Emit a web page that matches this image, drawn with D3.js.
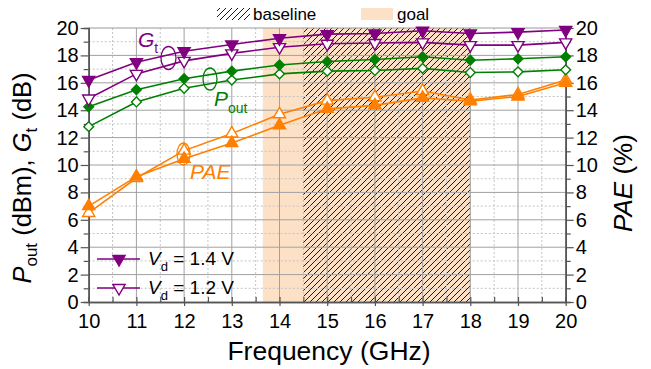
<!DOCTYPE html>
<html>
<head>
<meta charset="utf-8">
<script src="https://cdn.jsdelivr.net/npm/d3@7"></script>
<style>
  html, body { margin: 0; padding: 0; background: #fff; }
  svg { display: block; font-family: "Liberation Sans", Arial, sans-serif; }
</style>
</head>
<body>
<svg id="chart" width="651" height="369"></svg>
<script>
// Frequency sweep (GHz)
const freq = [10, 11, 12, 13, 14, 15, 16, 17, 18, 19, 20];

// Transducer gain Gt (dB)
const gt14 = [16.2, 17.5, 18.3, 18.8, 19.25, 19.55, 19.6, 19.8, 19.6, 19.7, 19.85];
const gt12 = [14.85, 16.65, 17.6, 18.15, 18.6, 18.85, 18.9, 18.95, 18.75, 18.75, 18.95];

// Output power Pout (dBm)
const pout14 = [14.25, 15.5, 16.3, 16.85, 17.3, 17.55, 17.7, 17.9, 17.65, 17.75, 17.9];
const pout12 = [12.8, 14.6, 15.6, 16.2, 16.65, 16.85, 16.9, 17.05, 16.75, 16.8, 16.95];

// Power-added efficiency PAE (%)
const pae14 = [7.0, 9.15, 10.45, 11.6, 12.9, 14.1, 14.35, 14.9, 14.65, 15.0, 16.0];
const pae12 = [6.5, 9.05, 11.05, 12.3, 13.7, 14.7, 14.95, 15.4, 14.75, 15.15, 16.2];

// Shaded bands (GHz)
const goalBand = [13.65, 18];
const baselineBand = [14.5, 18];

// Axis ticks
const xTicks = [10, 11, 12, 13, 14, 15, 16, 17, 18, 19, 20];
const yTicks = [0, 2, 4, 6, 8, 10, 12, 14, 16, 18, 20];

const PURPLE = "#800080", GREEN = "#008000", ORANGE = "#ff8000";
const PEACH = "#fde1c7";

const svg = d3.select("#chart");
const L = 88.7, R = 565.7, T = 28, B = 302;

const x = d3.scaleLinear().domain([10, 20]).range([L, R]);
const yL = d3.scaleLinear().domain([0, 20]).range([B, T]);
const yR = d3.scaleLinear().domain([0, 20]).range([B, T]);

// hatch pattern
const defs = svg.append("defs");
const pat = defs.append("pattern")
  .attr("id", "hatch").attr("patternUnits", "userSpaceOnUse")
  .attr("width", 6).attr("height", 6);
pat.append("path")
  .attr("d", "M0,6 L6,0 M-1.5,1.5 L1.5,-1.5 M4.5,7.5 L7.5,4.5")
  .attr("stroke", "#1a1a1a").attr("stroke-width", 1);

// bands
svg.append("rect")
  .attr("x", x(goalBand[0])).attr("y", T)
  .attr("width", x(goalBand[1]) - x(goalBand[0])).attr("height", B - T)
  .attr("fill", PEACH);
svg.append("rect")
  .attr("x", x(baselineBand[0])).attr("y", T)
  .attr("width", x(baselineBand[1]) - x(baselineBand[0])).attr("height", B - T)
  .attr("fill", "url(#hatch)");

// grid
const grid = svg.append("g");
d3.range(10.5, 20, 1).forEach(v => grid.append("line")
  .attr("x1", x(v)).attr("x2", x(v)).attr("y1", T).attr("y2", B)
  .attr("stroke", "#c4c4c4").attr("stroke-dasharray", "2,2"));
d3.range(1, 20, 2).forEach(v => grid.append("line")
  .attr("y1", yL(v)).attr("y2", yL(v)).attr("x1", L).attr("x2", R)
  .attr("stroke", "#c4c4c4").attr("stroke-dasharray", "2,2"));
xTicks.slice(1, -1).forEach(v => grid.append("line")
  .attr("x1", x(v)).attr("x2", x(v)).attr("y1", T).attr("y2", B)
  .attr("stroke", "#a0a0a0").attr("stroke-width", 1));
yTicks.slice(1, -1).forEach(v => grid.append("line")
  .attr("y1", yL(v)).attr("y2", yL(v)).attr("x1", L).attr("x2", R)
  .attr("stroke", "#a0a0a0").attr("stroke-width", 1));
svg.append("line").attr("x1", L).attr("x2", R).attr("y1", T).attr("y2", T)
  .attr("stroke", "#999").attr("stroke-width", 1);

// axes
const AX = "#555";
const gxMinor = svg.append("g").attr("transform", `translate(0,${B})`)
  .call(d3.axisTop(x).tickValues(d3.range(10.5, 20, 1)).tickSize(5).tickFormat(""));
const gx = svg.append("g").attr("transform", `translate(0,${B})`)
  .call(d3.axisBottom(x).tickValues(xTicks).tickSizeInner(4).tickSizeOuter(0).tickPadding(8));
gx.selectAll(".tick line").clone().attr("y2", -5);
const gyMinor = svg.append("g").attr("transform", `translate(${L},0)`)
  .call(d3.axisLeft(yL).tickValues(d3.range(1, 20, 2)).tickSize(5).tickFormat(""));
const gy = svg.append("g").attr("transform", `translate(${L},0)`)
  .call(d3.axisLeft(yL).tickValues(yTicks).tickSizeInner(8).tickSizeOuter(0).tickPadding(2));
const gyrMinor = svg.append("g").attr("transform", `translate(${R},0)`)
  .call(d3.axisRight(yR).tickValues(d3.range(1, 20, 2)).tickSize(5).tickFormat(""));
const gyr = svg.append("g").attr("transform", `translate(${R},0)`)
  .call(d3.axisRight(yR).tickValues(yTicks).tickSizeInner(8).tickSizeOuter(0).tickPadding(2));

[gxMinor, gx, gyMinor, gy, gyrMinor, gyr].forEach(g => {
  g.select(".domain").attr("stroke", AX).attr("stroke-width", 1.6);
  g.selectAll(".tick line").attr("stroke", AX).attr("stroke-width", 1.2);
  g.selectAll(".tick text").attr("fill", "#000").attr("font-size", 20)
    .attr("font-family", "'Liberation Sans', Arial, sans-serif");
});

// series
const symTri = d3.symbol().type(d3.symbolTriangle).size(64);
const symDia = d3.symbol().type(d3.symbolSquare).size(48);

function series(vals, yScale, color, sym, rot, filled) {
  const pts = freq.map((f, i) => [f, vals[i]]);
  svg.append("path")
    .attr("d", d3.line().x(d => x(d[0])).y(d => yScale(d[1]))(pts))
    .attr("fill", "none").attr("stroke", color).attr("stroke-width", 1.6);
  svg.append("g").selectAll("path").data(pts).join("path")
    .attr("d", sym())
    .attr("transform", d => `translate(${x(d[0])},${yScale(d[1])}) rotate(${rot})`)
    .attr("fill", filled ? color : "#fff")
    .attr("stroke", color).attr("stroke-width", 1.4);
}

series(pae12, yR, ORANGE, symTri, 0, false);
series(pae14, yR, ORANGE, symTri, 0, true);
series(pout12, yL, GREEN, symDia, 45, false);
series(pout14, yL, GREEN, symDia, 45, true);
series(gt12, yL, PURPLE, symTri, 180, false);
series(gt14, yL, PURPLE, symTri, 180, true);

// group annotations
function ellipse(cx, cy, rx, ry, color) {
  svg.append("ellipse").attr("cx", cx).attr("cy", cy).attr("rx", rx).attr("ry", ry)
    .attr("fill", "none").attr("stroke", color).attr("stroke-width", 1.3);
}
ellipse(168.5, 58, 7.5, 11.5, PURPLE);
ellipse(210, 79, 7, 11, GREEN);
ellipse(183.5, 154, 6.5, 11, ORANGE);

const gtLab = svg.append("text").attr("x", 138).attr("y", 47).attr("fill", PURPLE).attr("font-size", 21);
gtLab.append("tspan").attr("font-style", "italic").text("G");
gtLab.append("tspan").attr("font-size", 14).attr("dy", 6).text("t");

const poLab = svg.append("text").attr("x", 214).attr("y", 106).attr("fill", GREEN).attr("font-size", 21);
poLab.append("tspan").attr("font-style", "italic").text("P");
poLab.append("tspan").attr("font-size", 14).attr("dy", 7).text("out");

svg.append("text").attr("x", 190).attr("y", 179).attr("fill", ORANGE)
  .attr("font-size", 21).attr("font-style", "italic").text("PAE");

// axis titles
svg.append("text").attr("x", 329).attr("y", 360).attr("text-anchor", "middle")
  .attr("font-size", 26.5).text("Frequency (GHz)");

const ylab = svg.append("text").attr("transform", "translate(31,178) rotate(-90)")
  .attr("text-anchor", "middle").attr("font-size", 25.5);
ylab.append("tspan").attr("font-style", "italic").text("P");
ylab.append("tspan").attr("font-size", 17).attr("dy", 6).text("out");
ylab.append("tspan").attr("dy", -6).text(" (dBm), ");
ylab.append("tspan").attr("font-style", "italic").text("G");
ylab.append("tspan").attr("font-size", 17).attr("dy", 6).text("t");
ylab.append("tspan").attr("dy", -6).text(" (dB)");

const yrlab = svg.append("text").attr("transform", "translate(632,183) rotate(-90)")
  .attr("text-anchor", "middle").attr("font-size", 26);
yrlab.append("tspan").attr("font-style", "italic").text("PAE");
yrlab.append("tspan").text(" (%)");

// top legend: bands
svg.append("rect").attr("x", 217).attr("y", 8).attr("width", 33).attr("height", 12)
  .attr("fill", "url(#hatch)");
svg.append("text").attr("x", 253).attr("y", 20).attr("font-size", 17).text("baseline");
svg.append("rect").attr("x", 361).attr("y", 8).attr("width", 32).attr("height", 12)
  .attr("fill", PEACH);
svg.append("text").attr("x", 397).attr("y", 20).attr("font-size", 17).text("goal");

// bottom-left legend: bias conditions
const legendRows = [
  { label: "1.4 V", filled: true, y: 259 },
  { label: "1.2 V", filled: false, y: 288 }
];
legendRows.forEach(r => {
  svg.append("line").attr("x1", 97).attr("x2", 140).attr("y1", r.y).attr("y2", r.y)
    .attr("stroke", PURPLE).attr("stroke-width", 1.6);
  svg.append("path").attr("d", symTri())
    .attr("transform", `translate(119,${r.y}) rotate(180)`)
    .attr("fill", r.filled ? PURPLE : "#fff").attr("stroke", PURPLE).attr("stroke-width", 1.4);
  const t = svg.append("text").attr("x", 148).attr("y", r.y + 6).attr("font-size", 19);
  t.append("tspan").attr("font-style", "italic").text("V");
  t.append("tspan").attr("font-size", 13).attr("dy", 6).text("d");
  t.append("tspan").attr("dy", -6).text(" = " + r.label);
});
</script>
</body>
</html>
